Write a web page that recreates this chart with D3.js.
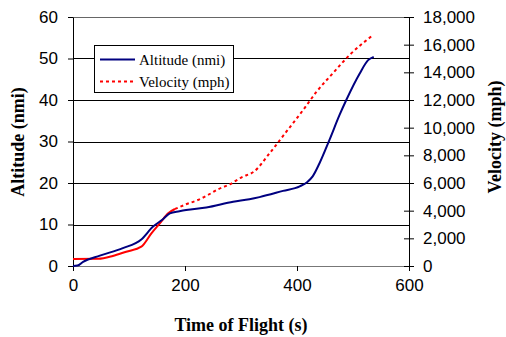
<!DOCTYPE html>
<meta charset="utf-8">
<style>
body { margin: 0; background: #fff; }
.tick text { font: 17px "Liberation Sans", Arial, sans-serif; fill: #000; }
.title { font: bold 18px "Liberation Serif", "Times New Roman", serif; fill: #000; }
.legend text { font: 15px "Liberation Serif", "Times New Roman", serif; fill: #000; }
</style>
<body>
<div id="chart"></div>
<script src="https://d3js.org/d3.v7.min.js"></script>
<script>
// altitude curve (nmi) against time of flight (s)
var altTime = [0, 8, 18, 48, 89, 122, 143, 160, 173, 190, 202, 238, 286, 315, 333, 375, 405, 418, 428, 440, 458, 476, 488, 512, 527, 537];
var altitude = [0, 0.1, 1.0, 2.5, 4.3, 6.4, 9.5, 11.2, 12.7, 13.2, 13.5, 14.1, 15.5, 16.1, 16.6, 18.1, 19.2, 20.2, 21.6, 24.7, 30.4, 36.4, 40, 46.4, 49.6, 50.4];

// velocity curve (mph) against time of flight (s)
var velTime = [0, 45, 71, 95, 122, 140, 155, 170, 182, 202, 223, 241, 259, 280, 301, 324, 351, 381, 411, 435, 464, 494, 536];
var velocity = [510, 520, 723, 1034, 1395, 2364, 3087, 3810, 4120, 4460, 4771, 5133, 5545, 5906, 6412, 6850, 8147, 9708, 11277, 12600, 13930, 15253, 16700];

var xTicks = [0, 200, 400, 600];
var altTicks = [0, 10, 20, 30, 40, 50, 60];
var velTicks = [0, 2000, 4000, 6000, 8000, 10000, 12000, 14000, 16000, 18000];

var margin = {top: 17, right: 97, bottom: 71, left: 73},
    width = 506 - margin.left - margin.right,
    height = 337 - margin.top - margin.bottom;

var svg = d3.select("#chart").append("svg")
    .attr("width", 506)
    .attr("height", 337),
  g = svg.append("g")
    .attr("transform", "translate(" + margin.left + "," + margin.top + ")");

var x = d3.scaleLinear().domain([0, 600]).range([0, width]);
var yAlt = d3.scaleLinear().domain([0, 60]).range([height, 0]);
var yVel = d3.scaleLinear().domain([0, 18000]).range([height, 0]);

// horizontal gridlines
g.selectAll(".grid")
    .data(altTicks.slice(1))
  .enter().append("line")
    .attr("x1", 0).attr("x2", width)
    .attr("y1", function(d) { return Math.round(yAlt(d)) + 0.5; })
    .attr("y2", function(d) { return Math.round(yAlt(d)) + 0.5; })
    .attr("stroke", function(d) { return d == 60 ? "#666" : "#000"; })
    .attr("stroke-width", 1);

// x axis
var xAxis = g.append("g")
    .attr("transform", "translate(0," + height + ")")
    .call(d3.axisBottom(x).tickValues(xTicks).tickSize(5).tickPadding(8));
xAxis.select(".domain").attr("stroke", "#777");

// left axis
var leftAxis = g.append("g")
    .call(d3.axisLeft(yAlt).tickValues(altTicks).tickSize(5).tickPadding(10).tickSizeOuter(0));

// right axis, ticks crossing the line
var rightAxis = g.append("g")
    .attr("transform", "translate(" + width + ",0)")
    .call(d3.axisRight(yVel).tickValues(velTicks).tickFormat(d3.format(",")).tickSize(5).tickPadding(9).tickSizeOuter(0));
rightAxis.selectAll(".tick line").attr("x1", -5);

// lines
var altLine = d3.line()
    .curve(d3.curveMonotoneX)
    .x(function(d, i) { return x(altTime[i]); })
    .y(function(d) { return yAlt(d); });
var velLine = d3.line()
    .curve(d3.curveMonotoneX)
    .x(function(d) { return x(d[0]); })
    .y(function(d) { return yVel(d[1]); });

// early velocity samples are dense and look solid in the original
var velPts = velTime.map(function(t, i) { return [t, velocity[i]]; });
var velEarly = velPts.filter(function(d) { return d[0] <= 182; });
var velLate = velPts.filter(function(d) { return d[0] >= 182; });

g.append("path")
    .datum(velEarly)
    .attr("d", velLine)
    .attr("fill", "none")
    .attr("stroke", "#ff0000")
    .attr("stroke-width", 2);

g.append("path")
    .datum(velLate)
    .attr("d", velLine)
    .attr("fill", "none")
    .attr("stroke", "#ff0000")
    .attr("stroke-width", 2)
    .attr("stroke-dasharray", "3,3");

g.append("path")
    .datum(altitude)
    .attr("d", altLine)
    .attr("fill", "none")
    .attr("stroke", "#000080")
    .attr("stroke-width", 2);

// axis titles
svg.append("text")
    .attr("class", "title")
    .attr("x", 241).attr("y", 331)
    .attr("text-anchor", "middle")
    .text("Time of Flight (s)");

svg.append("text")
    .attr("class", "title")
    .attr("transform", "translate(24,142) rotate(-90)")
    .attr("text-anchor", "middle")
    .text("Altitude (nmi)");

svg.append("text")
    .attr("class", "title")
    .attr("transform", "translate(501,137) rotate(-90)")
    .attr("text-anchor", "middle")
    .text("Velocity (mph)");

// legend
var legend = svg.append("g").attr("class", "legend");
legend.append("rect")
    .attr("x", 94.5).attr("y", 45.5)
    .attr("width", 139).attr("height", 47)
    .attr("fill", "#fff")
    .attr("stroke", "#000");

var items = [
  {name: "Altitude (nmi)", color: "#000080", dash: null},
  {name: "Velocity (mph)", color: "#ff0000", dash: "3,3"}
];
var item = legend.selectAll(".item")
    .data(items)
  .enter().append("g")
    .attr("transform", function(d, i) { return "translate(100," + (59.5 + i * 22) + ")"; });
item.append("line")
    .attr("x1", 0).attr("x2", 35)
    .attr("stroke", function(d) { return d.color; })
    .attr("stroke-width", 2)
    .attr("stroke-dasharray", function(d) { return d.dash; });
item.append("text")
    .attr("x", 39).attr("dy", "0.35em")
    .text(function(d) { return d.name; });
</script>
</body>
